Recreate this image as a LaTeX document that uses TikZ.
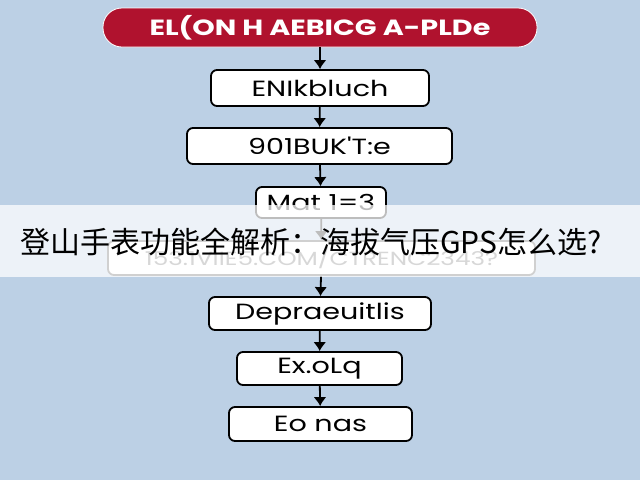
\documentclass[tikz,border=0pt]{standalone}
\usepackage{fontspec}
\setmainfont{Poppins}
\newfontfamily\boxfont[FakeStretch=1.3]{Poppins}
\newfontfamily\cjk{Noto Sans CJK SC}
\usetikzlibrary{arrows.meta}
\definecolor{bgblue}{HTML}{BCD0E5}
\definecolor{titlered}{HTML}{B0122E}

\begin{document}
\begin{tikzpicture}[x=1pt,y=-1pt]
    \tikzset{stage/.style = {shape=rectangle, draw, line width=1.8pt, fill=white, rounded corners=6pt, inner sep=0pt, font=\boxfont\fontsize{22}{24}\selectfont}}
    \tikzset{edge/.style = {-{Latex[length=9pt,width=13pt]}, line width=1.8pt}}

    \fill[bgblue] (0,0) rectangle (640,480);
    \useasboundingbox (0,0) rectangle (640,480);

    \node[stage, fill=titlered, draw=white, line width=0.8pt, rounded corners=19pt, minimum width=434pt, minimum height=39pt, text=white, font=\boxfont\fontsize{22}{24}\selectfont\bfseries] (title) at (320,27.5) {EL(ON H AEBICG A-PLDe};
    \node[stage, minimum width=218pt, minimum height=36pt] (enik) at (320,88) {ENIkbluch};
    \node[stage, minimum width=265pt, minimum height=36pt] (bukt) at (319.5,146) {901BUK'T:e};
    \node[stage, minimum width=130pt, minimum height=31pt] (mat) at (321,202.5) {Mat 1=3};
    \node[stage, draw=black!70, minimum width=427pt, minimum height=34pt, text=black!60, font=\boxfont\fontsize{19}{21}\selectfont] (link) at (321.5,258) {153.1VIIE5.COM/CTRENC2343?};
    \node[stage, minimum width=222pt, minimum height=33pt] (depr) at (320,313.5) {Depraeuitlis};
    \node[stage, minimum width=165pt, minimum height=33pt] (exol) at (319.5,368.5) {Ex.oLq};
    \node[stage, minimum width=183pt, minimum height=34pt] (eonas) at (320.5,424) {Eo nas};

    \draw[edge] (title) to (enik);
    \draw[edge] (enik) to (bukt);
    \draw[edge] (bukt) to (mat);
    \draw[edge] (mat) to (link);
    \draw[edge] (link) to (depr);
    \draw[edge] (depr) to (exol);
    \draw[edge] (exol) to (eonas);

    % caption band
    \fill[white, opacity=0.74] (0,205) rectangle (640,277);
    \node[font=\cjk\fontsize{30}{32}\selectfont, inner sep=0pt] (caption) at (311,242) {登山手表功能全解析：海拔气压GPS怎么选?};
\end{tikzpicture}
\end{document}
